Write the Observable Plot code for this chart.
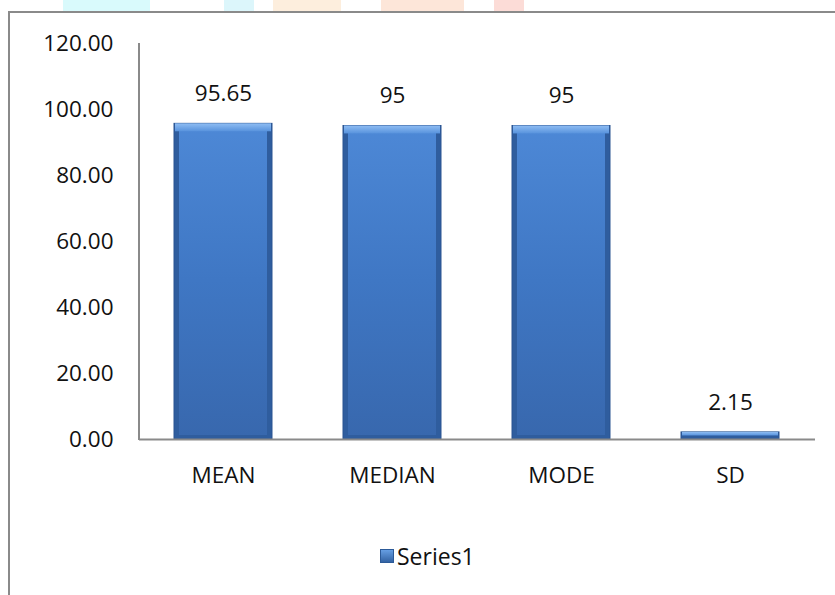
<!DOCTYPE html>
<html>
<head>
<meta charset="utf-8">
<script src="https://cdn.jsdelivr.net/npm/d3@7"></script>
<script src="https://cdn.jsdelivr.net/npm/@observablehq/plot@0.6"></script>
<style>
  html, body { margin: 0; padding: 0; background: #fff; }
  body { width: 835px; height: 595px; position: relative; overflow: hidden; font-family: "Open Sans", sans-serif; }
  #frame { position: absolute; left: 8px; top: 11px; width: 840px; height: 600px; border-left: 2px solid #8a8a8a; border-top: 2px solid #8a8a8a; box-sizing: border-box; }
  .wm { position: absolute; top: 0; height: 11px; }
  #chart { position: absolute; left: 0; top: 0; }
  #legend { position: absolute; left: 380px; top: 540px; display: flex; align-items: center; font-size: 23px; color: #111; }
  #legend .sw { width: 14px; height: 14px; margin-right: 3px; background: linear-gradient(#6aa3e8, #2f5e9e); box-shadow: inset 0 0 0 1px #2c5a98; }
</style>
</head>
<body>
<div class="wm" style="left:63px;width:87px;background:#d9fafc"></div>
<div class="wm" style="left:224px;width:30px;background:#dcf6fb"></div>
<div class="wm" style="left:273px;width:68px;background:#fdeedd"></div>
<div class="wm" style="left:381px;width:83px;background:#fde6d9"></div>
<div class="wm" style="left:494px;width:30px;background:#fcdcd7"></div>
<div id="frame"></div>
<div id="chart"></div>
<div id="legend"><span class="sw"></span><span>Series1</span></div>
<script>
const categories = ["MEAN", "MEDIAN", "MODE", "SD"];
const values = [95.65, 95, 95, 2.15];
const valueLabels = ["95.65", "95", "95", "2.15"];
const yTicks = [0, 20, 40, 60, 80, 100, 120];

const data = categories.map((c, i) => ({cat: c, v: values[i], label: valueLabels[i]}));

const plot = Plot.plot({
  width: 835,
  height: 595,
  marginLeft: 139,
  marginRight: 20,
  marginTop: 43,
  marginBottom: 156,
  style: {fontFamily: "'Open Sans', sans-serif", fontSize: "22.5px", color: "#111", background: "transparent", overflow: "visible"},
  x: {domain: categories, paddingInner: 0.42, paddingOuter: 0.21, label: null, tickSize: 0, tickPadding: 28},
  y: {domain: [0, 120], ticks: yTicks, tickFormat: d => d.toFixed(2), label: null, tickSize: 0, tickPadding: 26},
  marks: [
    Plot.barY(data, {x: "cat", y: "v", fill: "#2f5d9e", stroke: "#2a5592", strokeWidth: 1}),
    Plot.barY(data, {x: "cat", y: "v", fill: "url(#barGrad)", insetLeft: 5, insetRight: 5, insetBottom: 4, insetTop: 2}),
    Plot.barY(data, {x: "cat", y1: d => d.v, y2: d => Math.max(d.v - 2.4, d.v * 0.5), fill: "url(#topGrad)", insetLeft: 1, insetRight: 1}),
    Plot.text(data, {x: "cat", y: "v", text: "label", dy: -30, fill: "#111", fontSize: 22.5}),
    Plot.ruleY([0], {stroke: "#8a8a8a", strokeWidth: 2}),
  ]
});

const svg = d3.select(plot);
const defs = svg.insert("defs", ":first-child");
const g = defs.append("linearGradient").attr("id", "barGrad").attr("x1", 0).attr("x2", 0).attr("y1", 0).attr("y2", 1);
g.append("stop").attr("offset", "0%").attr("stop-color", "#4d88d6");
g.append("stop").attr("offset", "50%").attr("stop-color", "#3f77c4");
g.append("stop").attr("offset", "100%").attr("stop-color", "#3868ae");
const t = defs.append("linearGradient").attr("id", "topGrad").attr("x1", 0).attr("x2", 0).attr("y1", 0).attr("y2", 1);
t.append("stop").attr("offset", "0%").attr("stop-color", "#8fbdf3");
t.append("stop").attr("offset", "100%").attr("stop-color", "#5893dd");

const x0 = 139;
svg.append("line").attr("x1", x0).attr("x2", x0).attr("y1", 43).attr("y2", 440)
  .attr("stroke", "#8a8a8a").attr("stroke-width", 2);

document.getElementById("chart").appendChild(plot);
</script>
</body>
</html>
